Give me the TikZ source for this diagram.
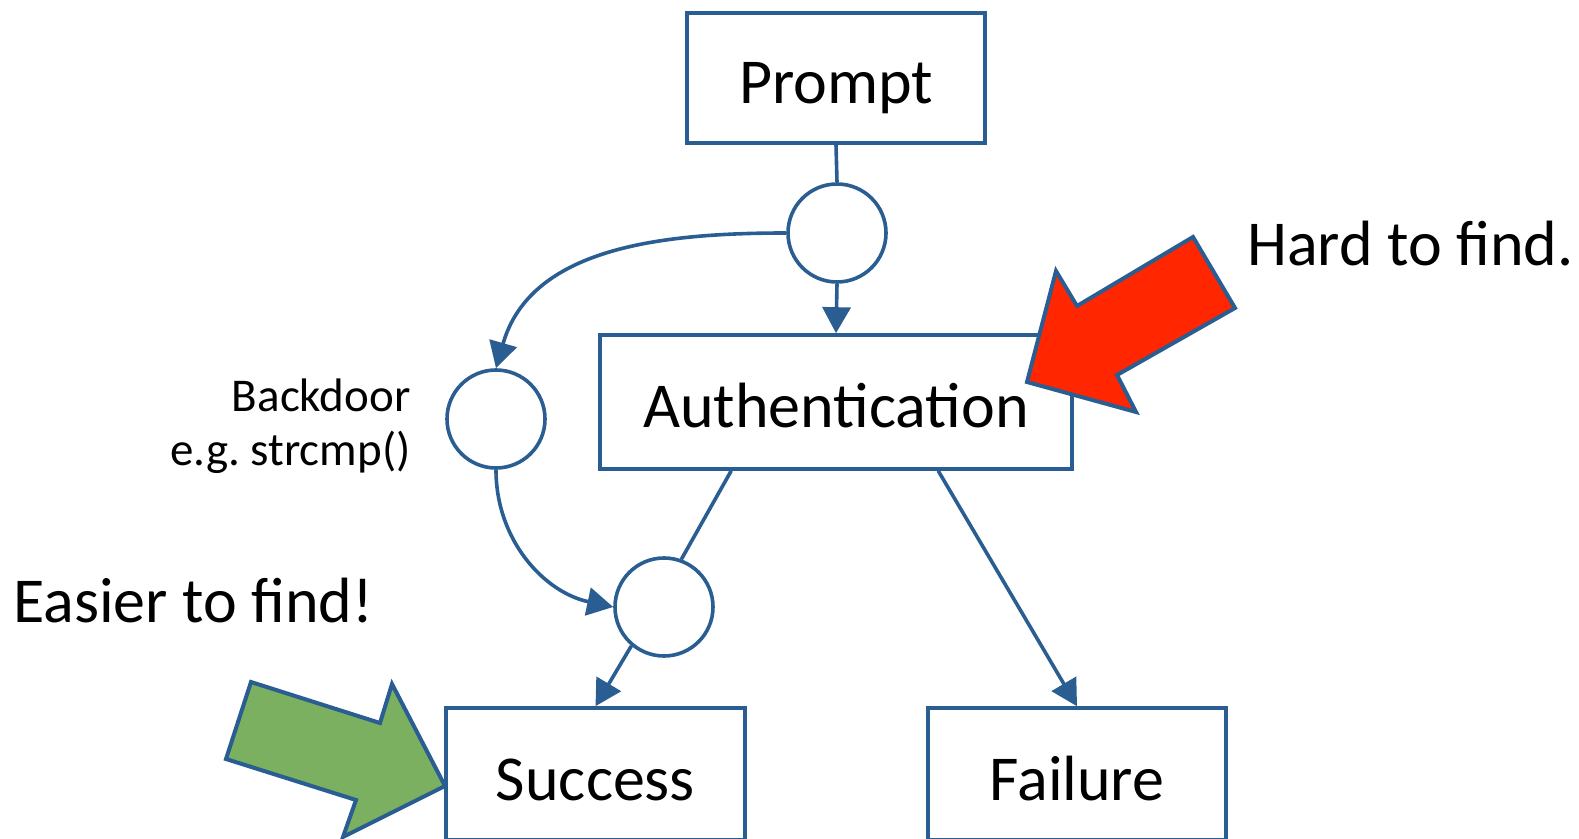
\documentclass[tikz,border=0pt]{standalone}
\usepackage{fontspec}
\setmainfont{Carlito}
\usetikzlibrary{arrows.meta,calc}
\frenchspacing

\definecolor{edgeblue}{HTML}{2A5E92}
\definecolor{hotred}{HTML}{FF2600}
\definecolor{leafgreen}{HTML}{7BB061}

\tikzset{
  box/.style={draw=edgeblue, line width=1.8pt, rectangle, inner sep=0pt,
    font=\fontsize{32}{38}\selectfont, text height=26pt, text depth=0pt},
  junction/.style={draw=edgeblue, line width=1.8pt, circle, inner sep=0pt,
    minimum size=49pt},
  flow/.style={draw=edgeblue, line width=1.8pt},
  flowarrow/.style={flow, -{Triangle[length=13pt,width=14pt]}},
  bigtext/.style={font=\fontsize{32}{38}\selectfont, inner sep=0pt},
  smalltext/.style={font=\fontsize{23.5}{27}\selectfont, inner sep=0pt, align=right},
  pointer/.style={draw=edgeblue, line width=2pt, line join=miter},
}

\begin{document}
\begin{tikzpicture}[x=0.5pt, y=-0.5pt]
  \useasboundingbox (0,0) rectangle (1579,839);
  \clip (0,0) rectangle (1579,839);

  % process boxes
  \node[box, minimum width=149pt, minimum height=65pt] (prompt) at (836,78) {Prompt};
  \node[box, minimum width=236pt, minimum height=67pt] (auth) at (836,402) {Authentication};
  \node[box, minimum width=149.5pt, minimum height=66pt] (succ) at (595.5,774) {Success};
  \node[box, minimum width=149pt, minimum height=66pt] (fail) at (1077,774) {Failure};

  % branch points
  \node[junction] (top) at (837,233) {};
  \node[junction] (door) at (496,419) {};
  \node[junction] (merge) at (664,607) {};

  % labels
  \node[smalltext, anchor=east] (doorlabel) at (411,426) {Backdoor\\e.g. strcmp()};
  \node[bigtext, anchor=base west] (hard) at (1247,266) {Hard to find.};
  \node[bigtext, anchor=base west] (easy) at (13,622) {Easier to find!};

  % exits from the authentication box
  \coordinate (authok) at ($(auth.south west)+(133,0)$);
  \coordinate (authbad) at ($(auth.south west)+(340,0)$);

  % connectors
  \draw[flow] (prompt.south) -- (top.north);
  \draw[flowarrow] (top.south) -- (auth.north);
  \draw[flowarrow] (top.west) to[out=180, in=74] (door.north);
  \draw[flowarrow] (door.south) to[out=-90, in=168] (merge.west);
  \draw[flow] (authok) -- (merge.70);
  \draw[flowarrow] (merge.230) -- (succ.north);
  \draw[flowarrow] (authbad) -- (fail.north);

  % pointers
  \filldraw[pointer, fill=hotred] (1193,237) -- (1235,308) -- (1117,375) -- (1136,412)
    -- (1027,382) -- (1056,271) -- (1077,306) -- cycle;
  \filldraw[pointer, fill=leafgreen] (251,682) -- (380,723) -- (392,684) -- (445,786)
    -- (343,837) -- (356,800) -- (226,759) -- cycle;
\end{tikzpicture}
\end{document}
